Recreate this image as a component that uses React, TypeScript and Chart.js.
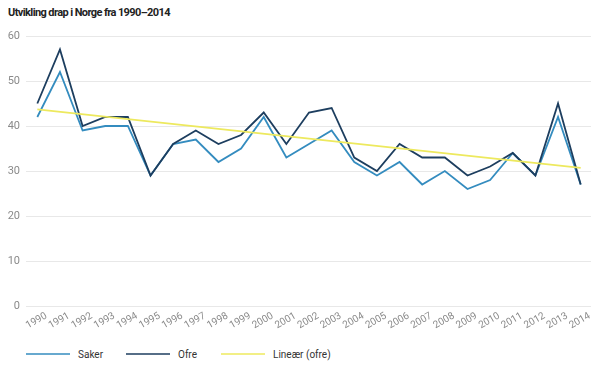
import React, { useEffect, useRef } from "react";
import { Chart, registerables } from "chart.js";

Chart.register(...registerables);

const title = "Utvikling drap i Norge fra 1990–2014";
const years = [
  "1990", "1991", "1992", "1993", "1994", "1995", "1996", "1997", "1998", "1999",
  "2000", "2001", "2002", "2003", "2004", "2005", "2006", "2007", "2008", "2009",
  "2010", "2011", "2012", "2013", "2014",
];
const saker = [42, 52, 39, 40, 40, 29, 36, 37, 32, 35, 42, 33, 36, 39, 32, 29, 32, 27, 30, 26, 28, 34, 29, 42, 27];
const ofre = [45, 57, 40, 42, 42, 29, 36, 39, 36, 38, 43, 36, 43, 44, 33, 30, 36, 33, 33, 29, 31, 34, 29, 45, 27];
// Linear trend of "ofre": values at first and last year
const trendEnds = [43.7, 30.7];
const seriesNames = ["Saker", "Ofre", "Lineær (ofre)"];
const yMin = 0;
const yMax = 60;
const yStep = 10;

const COLORS = ["#348cbf", "#1d3e5f", "#ede95e"];
const FONT = 'Roboto, "Noto Sans", sans-serif';

export default function App() {
  const ref = useRef<HTMLCanvasElement | null>(null);

  useEffect(() => {
    if (!ref.current) return;
    const last = years.length - 1;
    const trend = years.map((_, i) => (i === 0 ? trendEnds[0] : i === last ? trendEnds[1] : null));
    const chart = new Chart(ref.current, {
      type: "line",
      data: {
        labels: years,
        datasets: [
          { label: seriesNames[2], data: trend, borderColor: COLORS[2], borderWidth: 1.6, pointRadius: 0, spanGaps: true, order: 0 },
          { label: seriesNames[1], data: ofre, borderColor: COLORS[1], borderWidth: 1.8, pointRadius: 0, order: 1 },
          { label: seriesNames[0], data: saker, borderColor: COLORS[0], borderWidth: 1.8, pointRadius: 0, order: 2 },
        ],
      },
      options: {
        animation: false,
        responsive: false,
        devicePixelRatio: 1,
        layout: { padding: { top: 28, left: 0, right: 7, bottom: 0 } },
        plugins: { legend: { display: false }, tooltip: { enabled: false }, title: { display: false } },
        scales: {
          x: {
            offset: true,
            grid: { display: false },
            border: { display: false },
            ticks: {
              color: "#8a8a8a",
              font: { family: FONT, size: 10 },
              minRotation: 30,
              maxRotation: 30,
              labelOffset: 9,
              padding: -4,
              autoSkip: false,
            },
            afterFit: (s: any) => {
              s.height = 32;
            },
          },
          y: {
            min: yMin,
            max: yMax,
            ticks: { stepSize: yStep, color: "#8a8a8a", font: { family: FONT, size: 11 }, padding: 6 },
            grid: { color: "#e8e8e8", drawTicks: false, lineWidth: 1 },
            border: { display: false },
            afterFit: (s: any) => {
              s.width = 18;
            },
          },
        },
      },
    });
    return () => chart.destroy();
  }, []);

  const legendItems = [
    { name: seriesNames[0], color: COLORS[0], left: 18 },
    { name: seriesNames[1], color: COLORS[1], left: 118 },
    { name: seriesNames[2], color: COLORS[2], left: 213 },
  ];

  return (
    <div style={{ position: "relative", width: 591, height: 353 }}>
      <div
        style={{
          position: "absolute",
          left: 0,
          top: -1,
          fontFamily: FONT,
          fontWeight: 700,
          fontSize: 11,
          lineHeight: "11px",
          letterSpacing: "-0.6px",
          color: "#222",
          whiteSpace: "nowrap",
        }}
      >
        {title}
      </div>
      <canvas ref={ref} width={591} height={330} style={{ position: "absolute", left: 0, top: 0 }} />
      {legendItems.map((it) => (
        <div
          key={it.name}
          style={{
            position: "absolute",
            left: it.left,
            top: 339,
            height: 14,
            display: "flex",
            alignItems: "center",
            fontFamily: FONT,
            fontSize: 10,
            color: "#333",
            whiteSpace: "nowrap",
          }}
        >
          <span style={{ display: "inline-block", width: 44, height: 2, background: it.color, marginRight: 8, opacity: 0.75 }} />
          <span>{it.name}</span>
        </div>
      ))}
    </div>
  );
}
